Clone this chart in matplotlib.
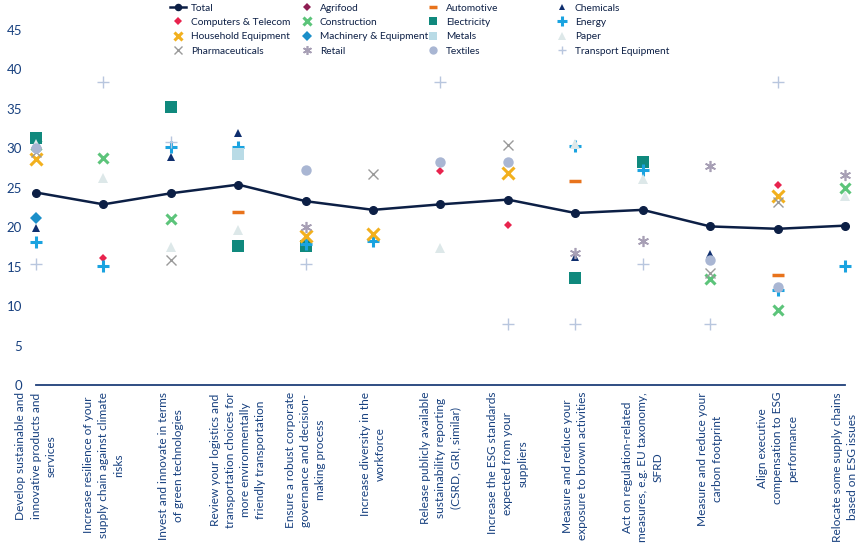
import numpy as np
import matplotlib
matplotlib.use("Agg")
import matplotlib.pyplot as plt

nan = np.nan

categories = [
    "Develop sustainable and\ninnovative products and\nservices",
    "Increase resilience of your\nsupply chain against climate\nrisks",
    "Invest and innovate in terms\nof green technologies",
    "Review your logistics and\ntransportation choices for\nmore environmentally\nfriendly transportation",
    "Ensure a robust corporate\ngovernance and decision-\nmaking process",
    "Increase diversity in the\nworkforce",
    "Release publicly available\nsustainability reporting\n(CSRD, GRI, similar)",
    "Increase the ESG standards\nexpected from your\nsuppliers",
    "Measure and reduce your\nexposure to brown activities",
    "Act on regulation-related\nmeasures, e.g. EU taxonomy,\nSFRD",
    "Measure and reduce your\ncarbon footprint",
    "Align executive\ncompensation to ESG\nperformance",
    "Relocate some supply chains\nbased on ESG issues",
]

total        = [24.4, 22.9, 24.3, 25.4, 23.3, 22.2, 22.9, 23.5, 21.8, 22.2, 20.1, 19.8, 20.2]
agrifood     = [nan] * 13
automotive   = [nan, nan, nan, 21.9, nan, nan, nan, nan, 25.8, nan, nan, 13.9, nan]
chemicals    = [19.9, nan, 28.9, 31.9, nan, nan, nan, nan, 16.2, nan, 16.6, nan, nan]
computers    = [nan, 16.1, nan, nan, nan, nan, 27.1, 20.3, nan, nan, nan, 25.4, nan]
construction = [30.4, 28.8, 21.1, nan, nan, nan, nan, nan, nan, nan, 13.5, 9.5, 25.0]
electricity  = [31.3, nan, 35.2, 17.6, 17.6, nan, nan, nan, 13.6, 28.3, nan, nan, nan]
energy       = [18.1, 15.1, 30.2, 30.2, 17.9, 18.2, nan, nan, 30.3, 27.3, nan, 12.1, 15.1]
household    = [28.7, nan, nan, nan, 18.9, 19.2, nan, 26.9, nan, nan, nan, 24.0, nan]
machinery    = [21.2, nan, nan, nan, nan, nan, nan, nan, nan, nan, nan, nan, nan]
metals       = [nan, nan, nan, 29.3, nan, nan, nan, nan, nan, nan, nan, nan, nan]
paper        = [30.6, 26.2, 17.5, 19.6, nan, nan, 17.4, nan, 30.5, 26.1, nan, nan, 24.0]
pharma       = [29.5, nan, 15.9, nan, nan, 26.8, nan, 30.4, nan, nan, 14.2, 23.2, nan]
retail       = [nan, nan, nan, nan, 20.0, nan, nan, nan, 16.7, 18.3, 27.7, nan, 26.6]
textiles     = [30.0, nan, nan, nan, 27.2, nan, 28.3, 28.3, nan, nan, 15.8, 12.4, nan]
transport    = [15.3, 38.4, 30.8, nan, 15.3, nan, 38.4, 7.7, 7.7, 15.3, 7.7, 38.4, nan]

y_ticks = [0, 5, 10, 15, 20, 25, 30, 35, 40, 45]

plt.rcParams['font.family'] = ['Lato', 'DejaVu Sans']

NAVY = '#0c1f45'
TXT = '#17407f'

# name, data, marker, color, size, mew, filled
series = [
    ("Agrifood", agrifood, 'D', '#8e1d52', 4.5, 1, True),
    ("Automotive", automotive, '_', '#e8731c', 8, 2.5, False),
    ("Chemicals", chemicals, '^', '#0f2e6e', 6, 1, True),
    ("Computers & Telecom", computers, 'D', '#e8234d', 4.5, 1, True),
    ("Construction", construction, 'x', '#5cc47a', 7, 2.2, False),
    ("Electricity", electricity, 's', '#10897d', 8, 1, True),
    ("Energy", energy, '+', '#1aa3e0', 9, 2.2, False),
    ("Household Equipment", household, 'x', '#f2b01e', 8, 2.2, False),
    ("Machinery & Equipment", machinery, 'D', '#1b8fc9', 6, 1, True),
    ("Metals", metals, 's', '#b9dbe6', 8, 1, True),
    ("Paper", paper, '^', '#dde8e9', 7, 1, True),
    ("Pharmaceuticals", pharma, 'x', '#9a9a9a', 7, 1.0, False),
    ("Retail", retail, (6, 2, 0), '#a79fb5', 8, 1.2, False),
    ("Textiles", textiles, 'o', '#a9b6d3', 7.5, 1, True),
    ("Transport Equipment", transport, '+', '#b8c6de', 8, 1.0, False),
]

fig = plt.figure(figsize=(8.59, 5.53), dpi=100)
ax = fig.add_axes([36 / 859, 1 - 385 / 553, (845 - 36) / 859, (385 - 30) / 553])
x = np.arange(len(categories))

handles = {}
for name, data, mk, col, ms, mew, filled in series:
    if filled:
        h, = ax.plot(x, data, linestyle='none', marker=mk, color=col, markersize=ms,
                     markeredgewidth=0, clip_on=False, zorder=3)
    else:
        h, = ax.plot(x, data, linestyle='none', marker=mk, color=col, markersize=ms,
                     markeredgewidth=mew, clip_on=False, zorder=3)
    handles[name] = h

ht, = ax.plot(x, total, color=NAVY, linewidth=1.8, marker='o', markersize=5.5,
              clip_on=False, zorder=4)
handles["Total"] = ht

ax.set_xlim(0, len(categories) - 1)
ax.set_ylim(0, 45)
ax.set_yticks(y_ticks)
ax.set_yticklabels([str(v) for v in y_ticks])
ax.tick_params(axis='y', length=0, pad=10, labelsize=9.5, labelcolor=TXT)
ax.tick_params(axis='x', length=0)
ax.set_xticks(x)
ax.set_xticklabels([])
for s in ['top', 'right', 'left']:
    ax.spines[s].set_visible(False)
ax.spines['bottom'].set_color('#1f3f7a')
ax.spines['bottom'].set_linewidth(1.3)

for xi, lab in zip(x, categories):
    ax.annotate(lab, xy=(xi, 0), xycoords='data', xytext=(0, -5),
                textcoords='offset points', rotation=90, ha='center', va='top',
                multialignment='center', fontsize=8.6, color=TXT, linespacing=1.45,
                annotation_clip=False)

cols = [
    ["Total", "Computers & Telecom", "Household Equipment", "Pharmaceuticals"],
    ["Agrifood", "Construction", "Machinery & Equipment", "Retail"],
    ["Automotive", "Electricity", "Metals", "Textiles"],
    ["Chemicals", "Energy", "Paper", "Transport Equipment"],
]
col_x = [170, 299, 425, 554]
for cx, names in zip(col_x, cols):
    leg = fig.legend([handles[n] for n in names], names, loc='upper left',
                     bbox_to_anchor=(cx / 859, 1 - 3.5 / 553), frameon=False, fontsize=7.3,
                     handlelength=1.6, handletextpad=0.45, labelspacing=0.52,
                     borderpad=0, borderaxespad=0, markerscale=0.8)
    for t in leg.get_texts():
        t.set_color(NAVY)

fig.savefig("out.png", dpi=100, facecolor='white')
